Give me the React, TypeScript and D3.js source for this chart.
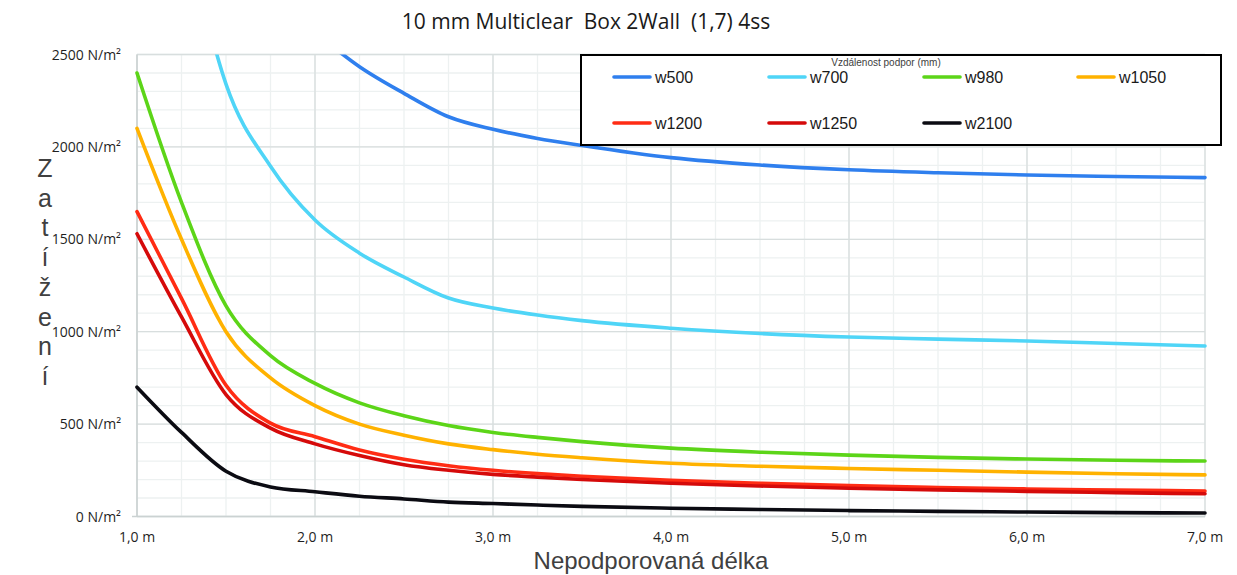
import React from "react";
import * as d3 from "d3";

const TITLE = "10 mm Multiclear  Box 2Wall  (1,7) 4ss";
const X_TITLE = "Nepodporovaná délka";
const Y_TITLE = "Zatížení";
const LEGEND_TITLE = "Vzdálenost podpor (mm)";

const X_VALUES = [1, 1.25, 1.5, 1.75, 2, 2.25, 2.5, 2.75, 3, 3.25, 3.5, 4, 4.5, 5, 5.5, 6, 6.5, 7];

const W500 = [null, null, null, null, 2620, 2434, 2290, 2163, 2095, 2046, 2008, 1942, 1902, 1876, 1860, 1848, 1840, 1834];
const W700 = [null, 3300, 2340, 1895, 1604, 1425, 1296, 1182, 1128, 1090, 1060, 1019, 990, 971, 960, 950, 936, 923];
const W980 = [2400, 1700, 1140, 870, 720, 615, 545, 492, 455, 428, 405, 370, 348, 332, 320, 311, 304, 300];
const W1050 = [2100, 1500, 1000, 750, 600, 500, 440, 393, 362, 337, 318, 288, 272, 260, 250, 240, 231, 225];
const W1200 = [1650, 1180, 710, 505, 432, 360, 310, 275, 250, 232, 218, 196, 180, 167, 157, 149, 143, 138];
const W1250 = [1530, 1080, 660, 478, 393, 330, 280, 250, 228, 213, 200, 180, 165, 153, 144, 136, 129, 123];
const W2100 = [700, 455, 245, 160, 134, 110, 95, 78, 70, 62, 55, 45, 38, 32, 28, 24, 21, 19];

const SERIES_NAMES = ["w500", "w700", "w980", "w1050", "w1200", "w1250", "w2100"];
const SERIES_VALUES = [W500, W700, W980, W1050, W1200, W1250, W2100];
const SERIES_COLORS = ["#2F7FEE", "#4FD5F7", "#5CD518", "#FFB200", "#FF2C14", "#D50A0A", "#0B0B12"];

const Y_TICKS = [0, 500, 1000, 1500, 2000, 2500];
const X_TICKS = [1, 2, 3, 4, 5, 6, 7];

export default function App() {
  const W = 1237;
  const H = 575;
  const left = 137, right = 1205, top = 54.5, bottom = 516.5;
  const x = d3.scaleLinear().domain([1, 7]).range([left, right]);
  const y = d3.scaleLinear().domain([0, 2500]).range([bottom, top]);

  const minorX = d3.range(1, 7.001, 0.25);
  const minorY = d3.range(0, 2501, 100);

  const line = d3
    .line<[number, number | null]>()
    .defined((d) => d[1] !== null)
    .x((d) => x(d[0]))
    .y((d) => y(d[1] as number))
    .curve(d3.curveMonotoneX);

  const legendCols = [614, 769, 924, 1078];
  const legendRows = [77, 123];

  const uiFont = "'Open Sans', sans-serif";
  const arial = "'Liberation Sans', Arial, sans-serif";

  return (
    <svg
      width={W}
      height={H}
      style={{ position: "absolute", left: 0, top: 0, background: "#fff" }}
    >
      <defs>
        <clipPath id="plotClip">
          <rect x={left - 3} y={top} width={right - left + 6} height={bottom - top + 3} />
        </clipPath>
      </defs>
      <rect x={0} y={0} width={W} height={H} fill="#fff" />
      {minorX.map((v, i) => (
        <line key={"mx" + i} x1={x(v)} x2={x(v)} y1={top} y2={bottom} stroke="#EDF1F1" strokeWidth={1.3} />
      ))}
      {minorY.map((v, i) => (
        <line key={"my" + i} x1={left} x2={right} y1={y(v)} y2={y(v)} stroke="#EDF1F1" strokeWidth={1.3} />
      ))}
      {X_TICKS.map((v) => (
        <line key={"Mx" + v} x1={x(v)} x2={x(v)} y1={top} y2={bottom} stroke="#D8DEDE" strokeWidth={1.3} />
      ))}
      {Y_TICKS.map((v) => (
        <line key={"My" + v} x1={left} x2={right} y1={y(v)} y2={y(v)} stroke="#D8DEDE" strokeWidth={1.3} />
      ))}
      <line x1={left} x2={left} y1={top} y2={bottom} stroke="#CBD2D2" strokeWidth={1.5} />
      <line x1={left - 5} x2={right} y1={bottom} y2={bottom} stroke="#CBD2D2" strokeWidth={1.5} />

      <g clipPath="url(#plotClip)">
        {SERIES_VALUES.map((vals, si) => {
          const pts = X_VALUES.map((xv, i) => [xv, vals[i]] as [number, number | null]);
          return (
            <path
              key={SERIES_NAMES[si]}
              d={line(pts) || ""}
              fill="none"
              stroke={SERIES_COLORS[si]}
              strokeWidth={3.6}
              strokeLinejoin="round"
              strokeLinecap="round"
            />
          );
        })}
      </g>

      {Y_TICKS.map((v) => (
        <text
          key={"yt" + v}
          x={121}
          y={y(v) + 5}
          textAnchor="end"
          fontFamily={uiFont}
          fontSize={14}
          fill="#1f1f1f"
        >
          {`${v} N/m²`}
        </text>
      ))}
      {X_TICKS.map((v) => (
        <text
          key={"xt" + v}
          x={x(v)}
          y={542}
          textAnchor="middle"
          fontFamily={uiFont}
          fontSize={14}
          fill="#1f1f1f"
        >
          {`${d3.format(".1f")(v).replace(".", ",")} m`}
        </text>
      ))}

      <text
        x={586}
        y={29}
        textAnchor="middle"
        fontFamily={uiFont}
        fontSize={21}
        fill="#1a1a1a"
        style={{ whiteSpace: "pre" }}
        xmlSpace="preserve"
      >
        {TITLE}
      </text>

      <text x={651} y={569} textAnchor="middle" fontFamily={arial} fontSize={24} fill="#404040">
        {X_TITLE}
      </text>
      {Array.from(Y_TITLE).map((ch, i) => (
        <text
          key={"yc" + i}
          x={45}
          y={177 + i * 29.7}
          textAnchor="middle"
          fontFamily={arial}
          fontSize={25}
          fill="#404040"
        >
          {ch}
        </text>
      ))}

      <rect x={581} y={55} width={640} height={90} fill="#fff" stroke="#000" strokeWidth={2} />
      <text x={886} y={66} textAnchor="middle" fontFamily={arial} fontSize={10} fill="#404040">
        {LEGEND_TITLE}
      </text>
      {SERIES_NAMES.map((name, i) => {
        const cx = legendCols[i % 4];
        const cy = legendRows[Math.floor(i / 4)];
        return (
          <g key={"lg" + name}>
            <line x1={cx} x2={cx + 36} y1={cy} y2={cy} stroke={SERIES_COLORS[i]} strokeWidth={3.6} strokeLinecap="round" />
            <text x={cx + 41} y={cy + 6} fontFamily={arial} fontSize={16} fill="#1a1a1a">
              {name}
            </text>
          </g>
        );
      })}
    </svg>
  );
}
